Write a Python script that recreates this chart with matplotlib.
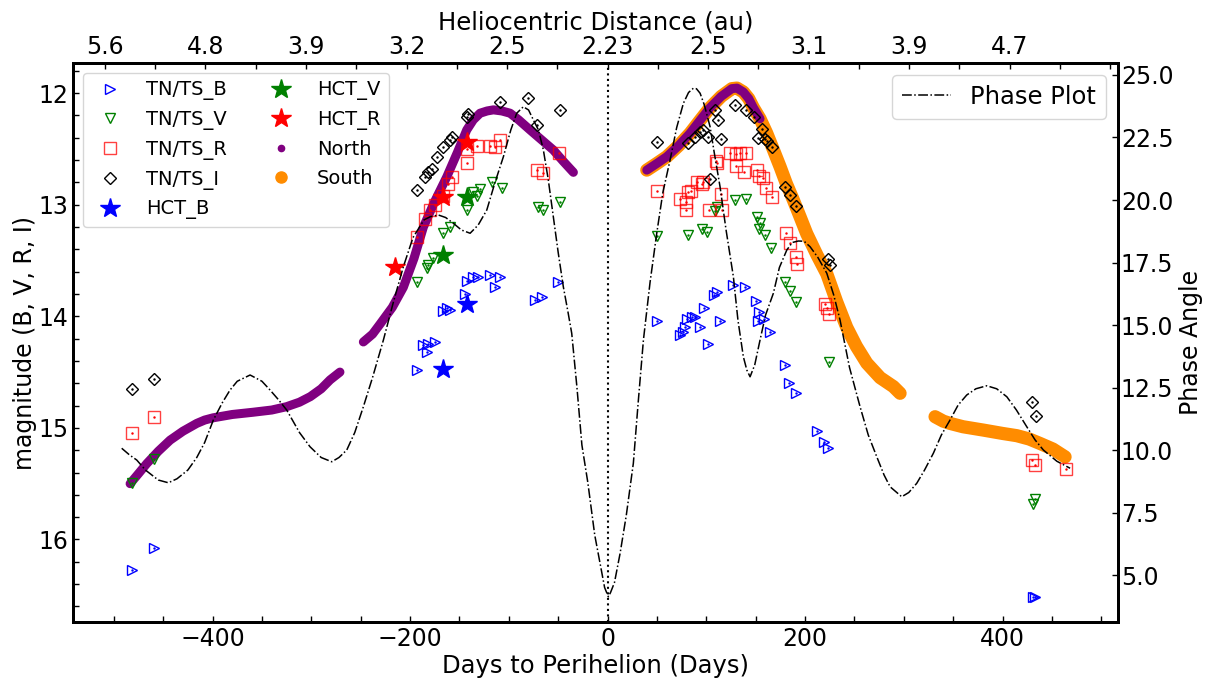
import matplotlib
matplotlib.use("Agg")
import matplotlib.pyplot as plt
from matplotlib.ticker import MultipleLocator

# ---- photometry (days to perihelion, magnitude) ----
tnts_b_days = [-481.8, -459.2, -193.2, -186.5, -181.5, -174.7, -183.1, -166.3, -162.8, -159.5,
               -144.3, -142.6, -135.9, -130.8, -119.0, -108.9, -113.9, -73.4, -66.6, -49.8,
               49.8, 73.4, 76.8, 78.5, 80.2, 85.3, 88.6, 93.7, 97.7, 102.1, 107.8, 111.2, 113.9,
               127.4, 139.2, 150.4, 153.7, 152.7, 158.5, 164.6, 179.7, 184.1, 190.9, 211.8,
               219.2, 223.6, 430.6, 432.9]
tnts_b_mag = [16.27, 16.08, 14.48, 14.26, 14.245, 14.23, 14.32, 13.95, 13.93, 13.94,
              13.80, 13.68, 13.65, 13.65, 13.63, 13.65, 13.74, 13.85, 13.83, 13.69,
              14.04, 14.17, 14.14, 14.10, 14.02, 14.01, 14.01, 14.10, 13.93, 14.25, 13.81, 13.78, 14.04,
              13.72, 13.74, 13.86, 13.96, 14.04, 14.02, 14.14, 14.44, 14.60, 14.69, 15.03,
              15.13, 15.18, 16.52, 16.52]

tnts_v_days = [-481.8, -459.2, -193.2, -183.1, -181.5, -176.4, -166.3, -159.5, -142.6, -135.9,
               -132.5, -129.1, -117.3, -107.1, -70.1, -65.0, -48.1,
               50.4, 81.8, 95.4, 101.1, 110.6, 108.9, 129.1, 140.3, 151.1, 154.4, 153.7, 159.5,
               165.3, 179.7, 184.8, 190.9, 224.6, 431.2, 432.9]
tnts_v_mag = [15.49, 15.28, 13.69, 13.57, 13.54, 13.48, 13.25, 13.20, 13.05, 12.89,
              12.92, 12.86, 12.80, 12.85, 13.02, 13.05, 12.98,
              13.28, 13.275, 13.22, 13.245, 13.02, 13.06, 12.96, 12.95, 13.11, 13.16, 13.22, 13.275,
              13.39, 13.69, 13.77, 13.87, 14.41, 15.68, 15.64]

tnts_r_days = [-481.8, -459.2, -193.2, -184.8, -179.7, -174.7, -166.3, -161.2, -157.8, -142.6,
               -142.0, -132.5, -119.0, -113.9, -108.9, -71.7, -65.0, -49.1,
               50.4, 73.4, 79.5, 79.5, 81.8, 84.2, 90.3, 95.4, 97.0, 109.9, 111.2, 103.1, 115.6,
               114.6, 124.0, 130.1, 134.2, 140.3, 130.1, 138.5, 151.1, 153.7, 157.8, 160.2, 166.3,
               180.5, 184.8, 190.9, 191.6, 220.3, 222.0, 224.6, 430.2, 432.9, 464.0]
tnts_r_mag = [15.05, 14.90, 13.29, 13.125, 13.05, 13.00, 12.92, 12.81, 12.75, 12.63,
              12.50, 12.47, 12.47, 12.48, 12.42, 12.69, 12.72, 12.54,
              12.88, 12.95, 12.98, 13.05, 12.89, 12.88, 12.80, 12.81, 12.80, 12.61, 12.63, 13.05, 13.045,
              12.90, 12.54, 12.55, 12.54, 12.54, 12.65, 12.71, 12.69, 12.74, 12.76, 12.85, 12.93,
              13.25, 13.34, 13.47, 13.53, 13.89, 13.93, 13.98, 15.29, 15.33, 15.37]

tnts_i_days = [-481.8, -459.2, -193.2, -184.8, -181.5, -178.0, -173.0, -166.3, -159.5, -157.8,
               -142.6, -141.0, -108.9, -80.5, -71.7, -48.1,
               49.8, 81.8, 88.6, 93.7, 97.0, 102.1, 108.9, 112.2, 114.6, 103.8, 129.1, 139.9,
               148.4, 152.7, 156.2, 159.5, 161.2, 166.3, 179.7, 184.8, 190.9, 223.6, 225.3,
               430.2, 433.9]
tnts_i_mag = [14.655, 14.56, 12.866, 12.75, 12.71, 12.68, 12.57, 12.48, 12.42, 12.39,
              12.215, 12.185, 12.08, 12.04, 12.29, 12.155,
              12.44, 12.45, 12.39, 12.35, 12.33, 12.39, 12.155, 12.24, 12.41, 12.77, 12.11, 12.15,
              12.215, 12.40, 12.32, 12.41, 12.43, 12.48, 12.84, 12.91, 13.01, 13.49, 13.54,
              14.77, 14.89]

hct_b_days = [-166.6, -142.6]
hct_b_mag = [14.47, 13.89]
hct_v_days = [-166.3, -142.6]
hct_v_mag = [13.45, 12.93]
hct_r_days = [-215.2, -166.3, -142.0]
hct_r_mag = [13.56, 12.93, 12.44]

# ---- model curves ----
north_days_1 = [-483.5, -475, -466.6, -455, -443.0, -430, -416.0, -408, -399.5, -380, -359.0,
                -340, -325.0, -312, -301.0, -290, -281.0, -271.0]
north_mag_1 = [15.50, 15.41, 15.32, 15.21, 15.11, 15.03, 14.96, 14.93, 14.91, 14.88, 14.86,
               14.84, 14.81, 14.77, 14.72, 14.65, 14.57, 14.50]
north_days_2 = [-247.3, -238, -230.4, -218, -206.8, -196, -186.5, -175, -162.8, -152, -142.6,
                -136, -129.1, -122, -115.6, -107, -98.7, -90, -78.5, -68, -54.9, -45, -34.6]
north_mag_2 = [14.23, 14.16, 14.07, 13.92, 13.74, 13.48, 13.20, 12.97, 12.75, 12.53, 12.33,
               12.24, 12.18, 12.16, 12.15, 12.16, 12.18, 12.24, 12.33, 12.41, 12.51, 12.61, 12.71]
north_days_3 = [39.7, 50, 59.9, 72, 83.5, 94, 103.8, 115, 125.8, 131, 137.5, 143, 147.6, 151, 154.4]
north_mag_3 = [12.69, 12.63, 12.57, 12.47, 12.36, 12.24, 12.13, 12.03, 11.96, 11.955, 11.99,
               12.05, 12.13, 12.18, 12.23]

south_days_1 = [39.7, 50, 59.9, 72, 83.5, 94, 103.8, 115, 125.8, 131, 137.5, 143, 147.6, 151,
                154.4, 161.2, 168, 174.7, 181, 188.2, 195, 201.7, 212, 222.0, 232, 242.2, 252,
                262.5, 276, 289.4, 296.2]
south_mag_1 = [12.69, 12.63, 12.57, 12.47, 12.36, 12.24, 12.13, 12.03, 11.96, 11.955, 11.99,
               12.05, 12.13, 12.18, 12.23, 12.36, 12.51, 12.66, 12.81, 12.96, 13.11, 13.26, 13.45,
               13.62, 13.87, 14.10, 14.27, 14.42, 14.55, 14.63, 14.69]
south_days_2 = [331.6, 340, 346.8, 360, 380.6, 400, 414.4, 427, 438.0, 451, 463.3]
south_mag_2 = [14.90, 14.94, 14.96, 14.99, 15.02, 15.05, 15.07, 15.10, 15.14, 15.19, 15.26]

phase_days = [-492, -484, -476.8, -468, -455, -444.8, -436, -425, -416, -408, -399.2, -390,
              -382.3, -375, -362, -350, -341.8, -333, -324.9, -312, -301.3, -290, -279.3, -272,
              -264.1, -256, -247.3, -238, -227, -217, -206.8, -197, -186, -179.7, -171.3, -164,
              -156.2, -148, -139.2, -131, -122.3, -114, -105.5, -98, -92, -85.3, -80, -75.1, -70,
              -65, -60, -54.9, -50, -44.8, -40, -36.3, -31, -26, -20, -13, -7.6, -3, 0.8, 3, 7,
              12.7, 19, 26.1, 31, 36.3, 43, 49.8, 56, 63.3, 70, 76.8, 82, 86.9, 90, 93.7, 98,
              103.8, 108, 113.9, 120, 127.4, 132, 137.5, 141, 144.3, 149, 154.4, 160, 167.9,
              174, 181.5, 187, 193.2, 199, 205.1, 213, 222, 229, 235.4, 245, 255.7, 264,
              272.6, 280, 286.1, 297.9, 305, 313.1, 321, 329.9, 338, 346.8, 355, 363.7, 373,
              384, 394, 404.3, 414, 424.5, 433, 441.3, 455, 468.4]
phase_angle = [10.07, 9.8, 9.6, 9.2, 8.8, 8.69, 8.85, 9.2, 9.7, 10.3, 11.2, 11.9,
               12.4, 12.75, 13.0, 12.75, 12.4, 12.0, 11.6, 10.7, 10.13, 9.7, 9.53, 9.7,
               10.0, 10.7, 11.73, 12.9, 14.4, 15.9, 17.33, 18.5, 19.2, 19.33, 19.4, 19.3,
               19.07, 18.8, 18.67, 19.0, 19.6, 20.7, 21.73, 22.8, 23.47, 23.73, 23.6, 23.2, 22.8,
               22.0, 20.8, 19.33, 17.9, 16.53, 15.5, 14.67, 12.5, 10.2, 8.7, 6.6, 5.47, 4.5, 4.13, 4.3, 4.7,
               5.87, 7.4, 9.47, 11.9, 14.4, 16.7, 18.67, 20.3, 21.6, 22.9, 23.87, 24.3, 24.47, 24.45, 24.27, 23.8,
               22.93, 21.9, 20.53, 18.8, 16.93, 15.2, 13.73, 13.2, 12.93, 13.4, 14.4, 15.4, 16.27,
               17.3, 18.0, 18.3, 18.36, 18.35, 18.13, 17.7, 17.07, 16.2, 15.2, 13.3, 11.73, 10.6,
               9.73, 9.0, 8.53, 8.13, 8.3, 8.67, 9.2, 9.87, 10.6, 11.2, 11.8, 12.2, 12.45,
               12.57, 12.45, 12.13, 11.6, 10.93, 10.4, 10.0, 9.55, 9.27]

# top axis labels (heliocentric distance)
helio_labels = ["5.6", "4.8", "3.9", "3.2", "2.5", "2.23", "2.5", "3.1", "3.9", "4.7"]

fs = 17
fig = plt.figure(figsize=(12.13, 6.81), dpi=100)
ax = fig.add_axes([0.0602, 0.0866, 0.8615, 0.8209])

# curves
for d, m in [(south_days_1, south_mag_1), (south_days_2, south_mag_2)]:
    ax.plot(d, m, color="darkorange", lw=9.5, solid_capstyle="round", solid_joinstyle="round", zorder=1)
for d, m in [(north_days_1, north_mag_1), (north_days_2, north_mag_2), (north_days_3, north_mag_3)]:
    ax.plot(d, m, color="purple", lw=6.5, solid_capstyle="round", solid_joinstyle="round", zorder=1.5)

ax.axvline(0, color="k", ls=":", lw=1.5, zorder=1)

# photometry
ax.plot(tnts_b_days, tnts_b_mag, ">", mfc="none", mec="blue", ms=7.5, mew=1, ls="none", label="TN/TS_B")
ax.plot(tnts_v_days, tnts_v_mag, "v", mfc="none", mec="green", ms=7.5, mew=1, ls="none", label="TN/TS_V")
ax.plot(tnts_r_days, tnts_r_mag, "s", mfc="none", mec="red", ms=8, mew=1, alpha=0.75, ls="none", label="TN/TS_R")
ax.plot(tnts_i_days, tnts_i_mag, "D", mfc="none", mec="k", ms=6.5, mew=1, ls="none", label="TN/TS_I")
for d, m, c in [(tnts_b_days, tnts_b_mag, "blue"), (tnts_v_days, tnts_v_mag, "green"),
                (tnts_r_days, tnts_r_mag, "red"), (tnts_i_days, tnts_i_mag, "k")]:
    ax.plot(d, m, ".", color=c, ms=1.5, ls="none")
ax.plot(hct_b_days, hct_b_mag, "*", color="blue", ms=15, ls="none", label="HCT_B")
ax.plot(hct_v_days, hct_v_mag, "*", color="green", ms=15, ls="none", label="HCT_V")
ax.plot(hct_r_days, hct_r_mag, "*", color="red", ms=15, ls="none", label="HCT_R")
ax.plot([], [], "o", color="purple", ms=4.5, ls="none", label="North")
ax.plot([], [], "o", color="darkorange", ms=8, ls="none", label="South")

ax.set_xlim(-541.3, 516.9)
ax.set_ylim(16.74, 11.73)
ax.xaxis.set_major_locator(MultipleLocator(200))
ax.xaxis.set_minor_locator(MultipleLocator(50))
ax.yaxis.set_major_locator(MultipleLocator(1))
ax.yaxis.set_minor_locator(MultipleLocator(0.2))
ax.tick_params(which="both", direction="in", length=4, width=1, labelsize=fs)
ax.set_xlabel("Days to Perihelion (Days)", fontsize=fs + 0.5, labelpad=2)
ax.set_ylabel("magnitude (B, V, R, I)", fontsize=fs, labelpad=1)
ax.legend(loc="upper left", ncol=2, fontsize=14, handletextpad=0.85, columnspacing=1.8)

# phase angle on the right
ax2 = ax.twinx()
ax2.plot(phase_days, phase_angle, color="k", ls="-.", lw=1.1, label="Phase Plot")
ax2.set_ylim(3.12, 25.48)
ax2.yaxis.set_major_locator(MultipleLocator(2.5))
ax2.tick_params(which="both", direction="in", length=4, width=1, labelsize=fs, pad=2)
ax2.set_ylabel("Phase Angle", fontsize=fs, labelpad=4)
ax2.legend(loc="upper right", fontsize=17.5)

# heliocentric distance on top
ax3 = ax.twiny()
ax3.set_xlim(-541.3 / 1.018, 516.9 / 1.018)
ax3.set_xticks(range(-500, 401, 100))
ax3.set_xticklabels(helio_labels)
ax3.xaxis.set_minor_locator(MultipleLocator(50))
ax3.tick_params(which="both", direction="in", length=4, width=1, labelsize=fs, pad=3)
ax3.set_xlabel("Heliocentric Distance (au)", fontsize=fs + 0.5, labelpad=4)

for a in (ax, ax2, ax3):
    for s in a.spines.values():
        s.set_linewidth(2)

fig.savefig("out.png", dpi=100)
